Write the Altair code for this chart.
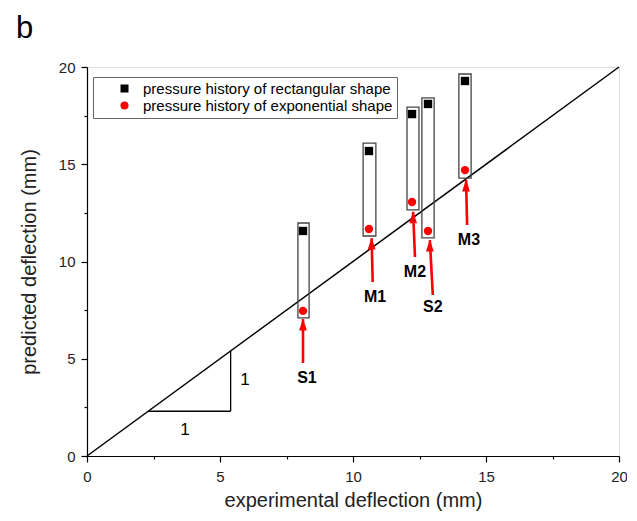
import altair as alt
import pandas as pd

# ---- data ----
cases = ["S1", "M1", "M2", "S2", "M3"]
exp_x = [8.12, 10.60, 12.22, 12.82, 14.21]
pred_rect = [11.57, 15.68, 17.58, 18.10, 19.28]
pred_exp = [7.46, 11.67, 13.06, 11.57, 14.70]

box_x1 = [7.93, 10.38, 12.03, 12.59, 13.98]
box_x2 = [8.35, 10.86, 12.48, 13.05, 14.44]
box_y1 = [7.10, 11.31, 12.65, 11.21, 14.29]
box_y2 = [11.98, 16.09, 17.94, 18.41, 19.64]

arrow_tail_x = [8.12, 10.74, 12.33, 13.00, 14.29]
arrow_tail_y = [4.78, 8.95, 10.23, 8.28, 11.88]
arrow_tip_x = [8.12, 10.70, 12.26, 12.89, 14.25]
arrow_tip_y = [7.04, 11.20, 12.55, 11.10, 14.19]

label_x = [8.27, 10.83, 12.33, 13.00, 14.36]
label_y = [4.01, 8.18, 9.46, 7.66, 11.10]

diag_x = [0, 20]
diag_y = [0, 20]

tri_x1 = [2.3, 5.4]
tri_x2 = [5.4, 5.4]
tri_y1 = [2.3, 2.3]
tri_y2 = [2.3, 5.4]
one_x = [3.68, 5.94]
one_y = [1.34, 3.91]

panel_label = ["b"]

series_names = ["pressure history of rectangular shape",
                "pressure history of exponential shape"]
tick_vals = [0, 2.5, 5, 7.5, 10, 12.5, 15, 17.5, 20]

FONT = "Liberation Sans"

# ---- tables ----
pts = pd.DataFrame({
    "x": exp_x + exp_x,
    "y": pred_rect + pred_exp,
    "series": [series_names[0]] * len(cases) + [series_names[1]] * len(cases),
})
boxes = pd.DataFrame({"x1": box_x1, "x2": box_x2, "y1": box_y1, "y2": box_y2})
arrows = pd.DataFrame({"xt": arrow_tail_x, "yt": arrow_tail_y,
                       "xh": arrow_tip_x, "yh": arrow_tip_y})
labels = pd.DataFrame({"x": label_x, "y": label_y, "t": cases})
diag = pd.DataFrame({"x": diag_x, "y": diag_y})
tri = pd.DataFrame({"x1": tri_x1, "x2": tri_x2, "y1": tri_y1, "y2": tri_y2})
ones = pd.DataFrame({"x": one_x, "y": one_y, "t": ["1", "1"]})
panel = pd.DataFrame({"t": panel_label})

xs = alt.Scale(domain=[0, 20], nice=False, zero=False)
ys = alt.Scale(domain=[0, 20], nice=False, zero=False)

tick_size_cond = {"condition": {"test": "datum.value % 5 === 0", "value": 6}, "value": 3}
lab_expr = "datum.value % 5 === 0 ? datum.label : ''"

x_axis = alt.Axis(values=tick_vals, labelExpr=lab_expr, tickSize=tick_size_cond,
                  title="experimental deflection (mm)", grid=False,
                  domainColor="black", tickColor="black", domainWidth=1.2, tickWidth=1.2,
                  labelFontSize=15, labelColor="#222", labelFont=FONT, labelPadding=7,
                  labelFlush=False, labelOverlap=False,
                  titleFontSize=20, titleFont=FONT, titleFontWeight="normal",
                  titleColor="#222", titlePadding=6)
y_axis = alt.Axis(values=tick_vals, labelExpr=lab_expr, tickSize=tick_size_cond,
                  title="predicted deflection (mm)", grid=False,
                  domainColor="black", tickColor="black", domainWidth=1.2, tickWidth=1.2,
                  labelFontSize=15, labelColor="#222", labelFont=FONT, labelPadding=6,
                  labelFlush=False, labelOverlap=False,
                  titleFontSize=20, titleFont=FONT, titleFontWeight="normal",
                  titleColor="#222", titlePadding=19)

line = alt.Chart(diag).mark_line(color="black", strokeWidth=1.5).encode(
    x=alt.X("x:Q", scale=xs, axis=x_axis),
    y=alt.Y("y:Q", scale=ys, axis=y_axis),
)

tri_rules = alt.Chart(tri).mark_rule(color="black", strokeWidth=1.3).encode(
    x="x1:Q", x2="x2:Q", y="y1:Q", y2="y2:Q")

one_text = alt.Chart(ones).mark_text(fontSize=17, font=FONT, color="black").encode(
    x="x:Q", y="y:Q", text="t:N")

box_marks = alt.Chart(boxes).mark_rect(fill=None, fillOpacity=0, stroke="#444",
                                      strokeWidth=1.3).encode(
    x="x1:Q", x2="x2:Q", y="y1:Q", y2="y2:Q")

points = alt.Chart(pts).mark_point(filled=True, size=70, opacity=1).encode(
    x="x:Q", y="y:Q",
    color=alt.Color("series:N",
                    scale=alt.Scale(domain=series_names, range=["black", "#ff0000"]),
                    legend=alt.Legend(title=None, orient="none", legendX=6, legendY=10,
                                      strokeColor="#666", padding=4, symbolOffset=20,
                                      labelFontSize=15, labelFont=FONT, labelColor="black",
                                      labelLimit=400,
                                      symbolSize=64, rowPadding=1, labelOffset=11,
                                      fillColor="white")),
    shape=alt.Shape("series:N",
                    scale=alt.Scale(domain=series_names, range=["square", "circle"]),
                    legend=None),
)

shafts = alt.Chart(arrows).mark_rule(color="#ff0000", strokeWidth=2.6).encode(
    x="xt:Q", y="yt:Q", x2="xh:Q", y2="yh:Q")

heads = alt.Chart(arrows).mark_point(
    shape="M0,-1L-0.45,0.4L0.45,0.4Z", filled=True, color="#ff0000",
    size=300, opacity=1, yOffset=8).encode(x="xh:Q", y="yh:Q")

case_text = alt.Chart(labels).mark_text(fontSize=16, fontWeight="bold", font=FONT,
                                        color="black").encode(
    x="x:Q", y="y:Q", text="t:N")

panel_text = alt.Chart(panel).mark_text(fontSize=31, font=FONT, color="black",
                                        align="left", baseline="alphabetic").encode(
    x=alt.value(-71), y=alt.value(-29), text="t:N")

chart = alt.layer(line, tri_rules, one_text, box_marks, points, shafts, heads,
                  case_text, panel_text).properties(
    width=532, height=389,
    autosize=alt.AutoSizeParams(type="none"),
    padding={"left": 79, "top": 59, "right": 8, "bottom": 57},
).configure_view(stroke="black", strokeWidth=1.2).configure(background="white")

chart.save("out.html", embed_options={"renderer": "svg", "actions": False})
